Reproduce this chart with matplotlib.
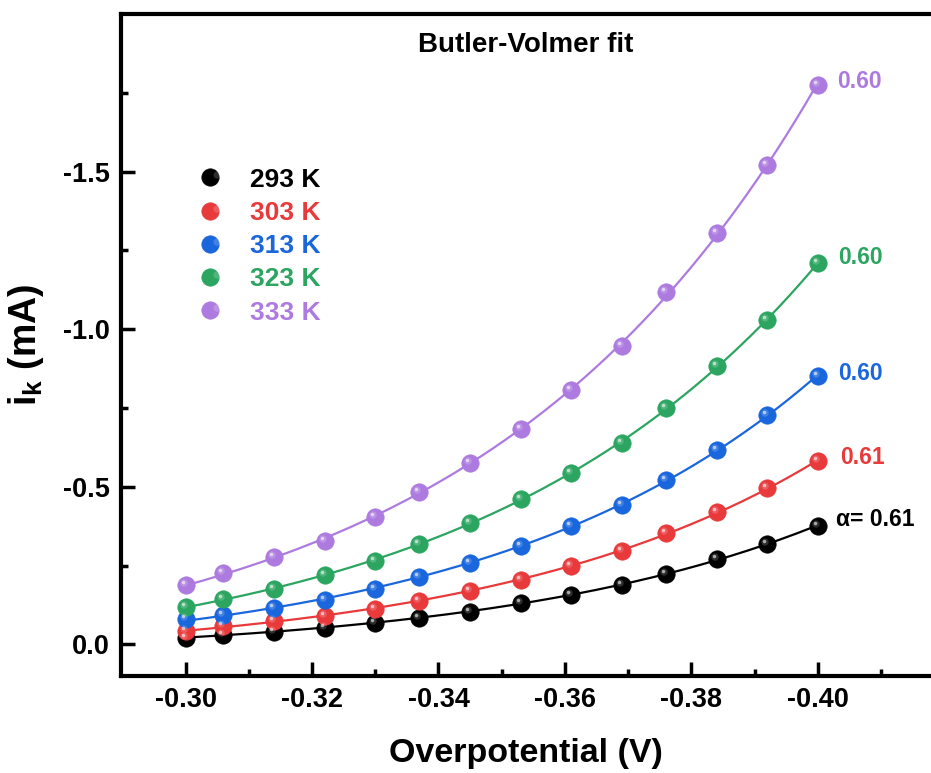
import numpy as np
import matplotlib.pyplot as plt
from matplotlib.path import Path
from matplotlib.legend_handler import HandlerTuple

plt.rcParams['font.family'] = ['Liberation Sans', 'DejaVu Sans']
plt.rcParams['font.weight'] = 'bold'
plt.rcParams['mathtext.fontset'] = 'custom'
plt.rcParams['mathtext.bf'] = 'Liberation Sans:bold'
plt.rcParams['mathtext.rm'] = 'Liberation Sans:bold'

# data
overpotential = [-0.300, -0.306, -0.314, -0.322, -0.330, -0.337, -0.345,
                 -0.353, -0.361, -0.369, -0.376, -0.384, -0.392, -0.400]
temps = ['293 K', '303 K', '313 K', '323 K', '333 K']
ik_293 = [-0.022, -0.031, -0.041, -0.052, -0.068, -0.085, -0.104,
          -0.131, -0.157, -0.189, -0.224, -0.270, -0.319, -0.377]
ik_303 = [-0.044, -0.057, -0.073, -0.091, -0.113, -0.138, -0.170,
          -0.206, -0.249, -0.297, -0.354, -0.419, -0.495, -0.582]
ik_313 = [-0.080, -0.094, -0.115, -0.141, -0.175, -0.215, -0.258,
          -0.313, -0.376, -0.442, -0.523, -0.616, -0.727, -0.852]
ik_323 = [-0.120, -0.144, -0.175, -0.221, -0.266, -0.319, -0.384,
          -0.460, -0.544, -0.639, -0.751, -0.882, -1.030, -1.209]
ik_333 = [-0.189, -0.227, -0.278, -0.328, -0.404, -0.483, -0.575,
          -0.685, -0.806, -0.946, -1.118, -1.306, -1.521, -1.776]
alpha_labels = ['\u03b1= 0.61', '0.61', '0.60', '0.60', '0.60']

series = [ik_293, ik_303, ik_313, ik_323, ik_333]
colors = ['#000000', '#E8393B', '#1A66DD', '#2BA560', '#AD7BDF']
label_dx = [0.0028, 0.0035, 0.0032, 0.0032, 0.0030]
label_dy = [-0.02, -0.012, -0.008, -0.018, -0.01]


def spot(cx, cy, r):
    # circle path used as a marker; the lone (1, 0) point fixes the scale
    t = np.linspace(0, 2 * np.pi, 40)
    verts = [(1.0, 0.0)] + list(zip(cx + r * np.cos(t), cy + r * np.sin(t)))
    codes = [Path.MOVETO, Path.MOVETO] + [Path.LINETO] * 38 + [Path.CLOSEPOLY]
    return Path(verts, codes)


glow = spot(-0.28, 0.28, 0.42)
shine = spot(-0.34, 0.34, 0.2)

fig = plt.figure(figsize=(9.31, 7.73), dpi=100)
ax = fig.add_axes([0.130, 0.1255, 0.870, 0.8564])

x = np.array(overpotential)
u = -(x + 0.30)
xfit = np.linspace(-0.30, -0.40, 200)
ufit = -(xfit + 0.30)

ms = 12.5
handles = []
for y, c, lab, a_lab, dx, dy in zip(series, colors, temps, alpha_labels, label_dx, label_dy):
    y = np.array(y)
    # exponential (Butler-Volmer, cathodic branch) fit to the points
    best = None
    for k in np.linspace(1, 60, 600):
        A = np.column_stack([np.ones_like(u), np.exp(k * u)])
        coef, *_ = np.linalg.lstsq(A, y, rcond=None)
        sse = np.sum((A @ coef - y) ** 2)
        if best is None or sse < best[0]:
            best = (sse, k, coef)
    _, k, coef = best
    ax.plot(xfit, coef[0] + coef[1] * np.exp(k * ufit), color=c, lw=1.6, zorder=2)

    ball, = ax.plot(x, y, 'o', ms=ms, color=c, mec=c, mew=0.5, zorder=3)
    g1, = ax.plot(x, y, marker=glow, ls='none', ms=ms, color='white',
                  mew=0, alpha=0.18, zorder=4)
    g2, = ax.plot(x, y, marker=shine, ls='none', ms=ms, color='white',
                  mew=0, alpha=0.6, zorder=5)
    handles.append((ball, g1, g2))

    ax.text(x[-1] - dx, y[-1] + dy, a_lab, color=c, fontsize=16.5,
            fontweight='bold', ha='left', va='center')

leg = ax.legend(handles, temps, handler_map={tuple: HandlerTuple(ndivide=None)},
                loc='upper left', bbox_to_anchor=(0.105, 0.768), frameon=False,
                fontsize=19, labelcolor=colors, handlelength=1.0,
                handletextpad=0.67, labelspacing=0.35, borderpad=0, borderaxespad=0)

ax.text(0.5, 0.953, 'Butler-Volmer fit', transform=ax.transAxes, ha='center',
        va='center', fontsize=20, fontweight='bold')

ax.set_xlim(-0.2898, -0.4179)
ax.set_ylim(0.1, -2.0)
ax.set_xticks([-0.30, -0.32, -0.34, -0.36, -0.38, -0.40])
ax.set_xticks([-0.31, -0.33, -0.35, -0.37, -0.39, -0.41], minor=True)
ax.set_yticks([0.0, -0.5, -1.0, -1.5])
ax.set_yticks([-0.25, -0.75, -1.25, -1.75], minor=True)
ax.set_xticklabels(['-0.30', '-0.32', '-0.34', '-0.36', '-0.38', '-0.40'])
ax.set_yticklabels(['0.0', '-0.5', '-1.0', '-1.5'])

ax.tick_params(which='major', direction='in', length=10, width=2.5,
               labelsize=19.5, pad=8)
ax.tick_params(which='minor', direction='in', length=5, width=2.5)
for s in ['left', 'bottom', 'top']:
    ax.spines[s].set_linewidth(3)
ax.spines['right'].set_visible(False)

ax.set_xlabel('Overpotential (V)', fontsize=24.5, fontweight='bold', labelpad=18)
ax.set_ylabel(r'i$_\mathbf{k}$ (mA)', fontsize=27, fontweight='bold', labelpad=12)

fig.savefig('out.png', dpi=100)
